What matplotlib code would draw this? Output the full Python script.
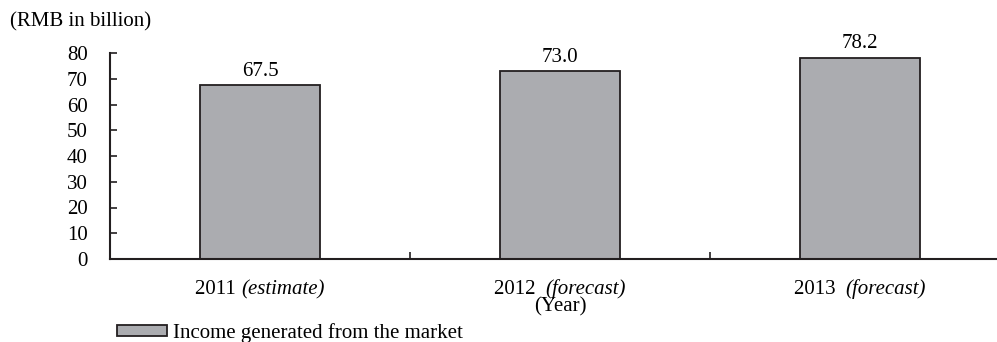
import matplotlib
matplotlib.use("Agg")
import matplotlib.pyplot as plt
from matplotlib.patches import Patch

plt.rcParams['font.family'] = 'Liberation Serif'

years = ["2011", "2012", "2013"]
notes = ["(estimate)", "(forecast)", "(forecast)"]
income = [67.5, 73.0, 78.2]
yticks = [0, 10, 20, 30, 40, 50, 60, 70, 80]

W, H = 997, 342
FS = 15
fig = plt.figure(figsize=(W / 100, H / 100), dpi=100)
# axes spans x 110..1010 px (right part is cut off by the figure edge)
ax = fig.add_axes([110 / W, (H - 259) / H, 900 / W, (259 - 53) / H])

edge = '#231f20'
xs = range(len(income))
ax.bar(xs, income, width=0.4, color='#abacb0', edgecolor=edge, linewidth=1.3)

for x, v in zip(xs, income):
    ax.annotate(f"{v:.1f}", (x, v), xytext=(0, 3), textcoords='offset points',
                ha='center', va='bottom', fontsize=FS)

ax.set_xlim(-0.5, 2.5)
ax.set_ylim(0, 80)
ax.set_yticks(yticks)
ax.tick_params(axis='y', direction='in', length=5, width=1.2, color=edge,
               labelsize=FS, pad=16)

ax.set_xticks([0.5, 1.5])
ax.set_xticklabels([])
ax.tick_params(axis='x', direction='in', length=5, width=1.2, color=edge)

for s in ['top', 'right']:
    ax.spines[s].set_visible(False)
for s in ['left', 'bottom']:
    ax.spines[s].set_color(edge)
    ax.spines[s].set_linewidth(1.5)

# category labels: year upright + note italic, centred together under each bar
renderer = fig.canvas.get_renderer()
dy = -35  # baseline offset in pixels below the axis
for i, (y, n) in enumerate(zip(years, notes)):
    gap = 0 if i == 0 else 4
    t1 = ax.annotate(y + " ", (i, 0), xycoords=('data', 'axes fraction'),
                     xytext=(0, dy), textcoords='offset pixels',
                     ha='left', va='baseline', fontsize=FS)
    t2 = ax.annotate(n, (i, 0), xycoords=('data', 'axes fraction'),
                     xytext=(0, dy), textcoords='offset pixels',
                     ha='left', va='baseline', fontsize=FS, style='italic')
    w1 = t1.get_window_extent(renderer).width + gap
    w2 = t2.get_window_extent(renderer).width
    tot = w1 + w2
    t1.set_position((-tot / 2, dy))
    t2.set_position((-tot / 2 + w1, dy))

fig.text(10 / W, 1 - 22 / H, "(RMB in billion)", fontsize=FS, va='center', ha='left')
fig.text(560 / W, 1 - 307 / H, "(Year)", fontsize=FS, va='center', ha='center')

handle = Patch(facecolor='#abacb0', edgecolor=edge, linewidth=1.3)
fig.legend([handle], ["Income generated from the market"], loc='center left',
           bbox_to_anchor=(117 / W, 1 - 333 / H), frameon=False, fontsize=FS,
           handlelength=2.4, handleheight=0.45, handletextpad=0.3,
           borderpad=0, borderaxespad=0)

fig.savefig("out.png", dpi=100)
